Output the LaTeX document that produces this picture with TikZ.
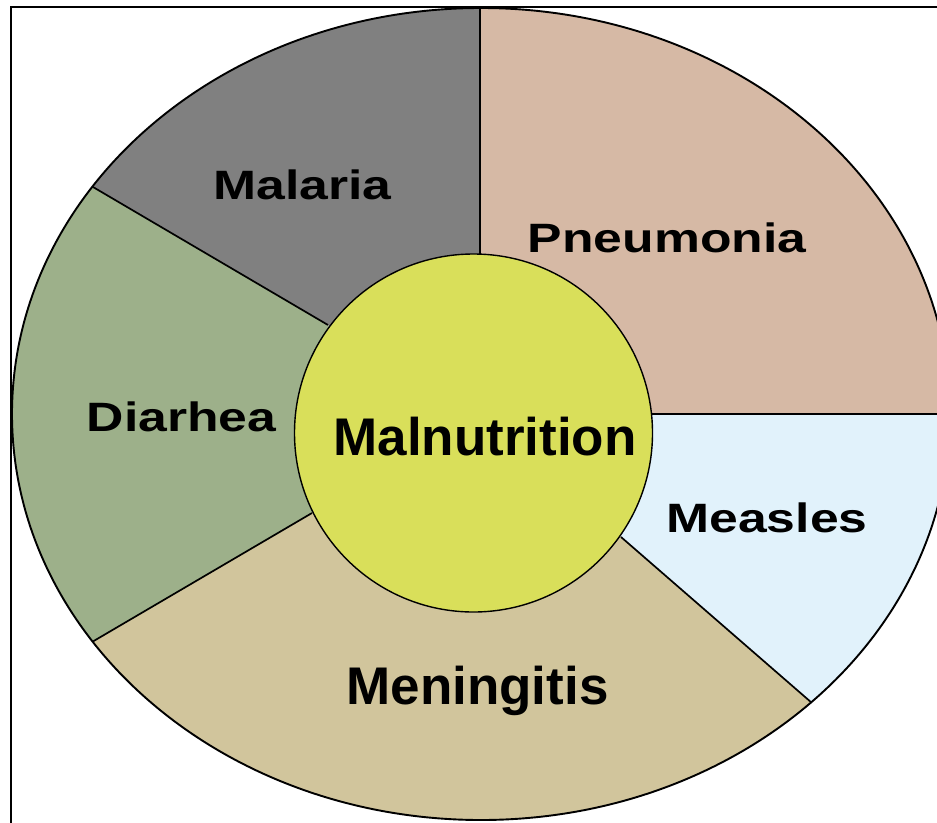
\documentclass[tikz,border=0pt]{standalone}
\usepackage{fontspec}
\usepackage{graphicx}
\setmainfont{Liberation Sans}
\definecolor{pneu}{HTML}{D6B9A5}
\definecolor{meas}{HTML}{E1F2FB}
\definecolor{meni}{HTML}{D1C59C}
\definecolor{diar}{HTML}{9DB08A}
\definecolor{mala}{HTML}{808080}
\definecolor{malnu}{HTML}{D9DF5A}
\newcommand{\widetext}[1]{\scalebox{1.26}[1]{#1}}
\tikzset{
  divider/.style={draw=black, line width=1.7pt},
  smalllabel/.style={font=\bfseries\fontsize{41}{45}\selectfont, anchor=base, inner sep=0pt},
  biglabel/.style={font=\bfseries\fontsize{53}{58}\selectfont, anchor=base, inner sep=0pt},
}
\begin{document}
\begin{tikzpicture}[x=1pt, y=-1pt]
\useasboundingbox (0,0) rectangle (937,822);
\clip (0,0) rectangle (937,822);
\fill[white] (0,0) rectangle (937,822);
% frame
\draw[line width=1.8pt] (11,1000) -- (11,7) -- (1000,7);
% key points
\coordinate (E) at (481,414);
\coordinate (C) at (473.5,433);
\coordinate (i1) at (480,254);   \coordinate (o1) at (480,-200);
\coordinate (i2) at (652,414);   \coordinate (o2) at (1300,414);
\coordinate (i3) at (621,537);   \coordinate (o3) at (1194,1035);
\coordinate (i4) at (312,513);   \coordinate (o4) at (-348,900);
\coordinate (i5) at (328,325);   \coordinate (o5) at (-377,-89);
\begin{scope}
  \clip (E) ellipse [x radius=469pt, y radius=406pt];
  \fill[pneu] (C) -- (i1) -- (o1) -- (1300,-200) -- (o2) -- (i2) -- cycle;
  \fill[meas] (C) -- (i2) -- (o2) -- (1300,1035) -- (o3) -- (i3) -- cycle;
  \fill[meni] (C) -- (i3) -- (o3) -- (1194,1300) -- (-348,1300) -- (o4) -- (i4) -- cycle;
  \fill[diar] (C) -- (i4) -- (o4) -- (-450,900) -- (-450,-89) -- (o5) -- (i5) -- cycle;
  \fill[mala] (C) -- (i5) -- (o5) -- (-377,-200) -- (o1) -- (i1) -- cycle;
  \draw[divider] (i1) -- (o1);
  \draw[divider] (i2) -- (o2);
  \draw[divider] (i3) -- (o3);
  \draw[divider] (i4) -- (o4);
  \draw[divider] (i5) -- (o5);
\end{scope}
\draw[line width=1.9pt] (E) ellipse [x radius=469pt, y radius=406pt];
\draw[fill=malnu, line width=1.4pt] (C) circle [radius=179pt];
% labels
\node[smalllabel] (malaria) at (302.5,199.5) {\widetext{Malaria}};
\node[smalllabel] (pneumonia) at (667,252) {\widetext{Pneumonia}};
\node[smalllabel] (diarhea) at (181.5,431) {\widetext{Diarhea}};
\node[smalllabel] (measles) at (767,532) {\widetext{Measles}};
\node[biglabel] (malnutrition) at (485,455) {Malnutrition};
\node[biglabel] (meningitis) at (477.5,704) {Meningitis};
\end{tikzpicture}
\end{document}
